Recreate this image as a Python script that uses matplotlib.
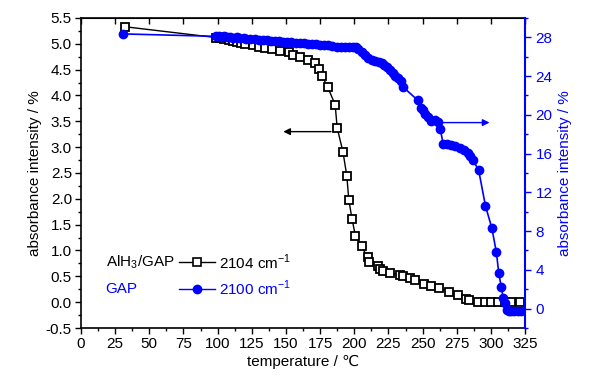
import numpy as np
import matplotlib
matplotlib.use('Agg')
import matplotlib.pyplot as plt
from matplotlib.ticker import MultipleLocator

plt.rcParams['font.family'] = ['Liberation Sans', 'DejaVu Sans']
plt.rcParams['mathtext.fontset'] = 'custom'
plt.rcParams['mathtext.rm'] = 'Liberation Sans'

# AlH3/GAP, 2104 cm-1 (left axis)
alh3_t = [32, 99, 102, 105, 108, 111, 114, 117, 120, 125.6, 130, 135, 140, 146, 152,
          155.5, 160.5, 165.8, 171.5, 174.4, 176.5, 180.6, 186, 187.5, 191.7, 194.5,
          196, 198.4, 200.8, 205.3, 209.7, 210.9, 217.1, 219, 221.3, 226.2, 233.6,
          236, 241, 244.5, 250.9, 255.8, 262, 269.4, 275.6, 282, 284, 290.4, 295.3,
          300.2, 305.2, 310, 315, 321.2]
alh3_v = [5.33, 5.12, 5.11, 5.10, 5.08, 5.06, 5.04, 5.01, 4.99, 4.97, 4.94, 4.92, 4.89,
          4.86, 4.84, 4.78, 4.74, 4.68, 4.63, 4.52, 4.37, 4.16, 3.82, 3.37, 2.91, 2.45,
          1.98, 1.60, 1.29, 1.08, 0.87, 0.77, 0.70, 0.65, 0.60, 0.57, 0.52, 0.50, 0.46,
          0.43, 0.36, 0.32, 0.28, 0.19, 0.13, 0.07, 0.05, 0.0, 0.0, 0.0, 0.0, 0.0, 0.0, 0.0]

# GAP, 2100 cm-1 (right axis)
gap_t = [31, 99, 101, 103, 105, 107, 109, 111, 114, 116, 119, 121, 124, 127, 130, 133,
         136, 139, 142, 145, 148, 151, 154, 157, 160, 163, 166, 169, 172, 175, 178, 181,
         184, 187, 190, 193, 196, 199, 201, 203, 206, 208, 210, 213, 215, 218, 220, 222,
         224, 226, 228, 230, 232, 234, 235.5, 246.5, 248.5, 250, 252, 254, 256, 259, 261,
         263, 265, 268, 271, 274, 277, 280, 283, 285, 287, 291, 296, 300.7, 304, 305.7,
         307.6, 309, 310.2, 311.8, 313.5, 315, 317, 319.5, 321.7]
gap_v = [28.35, 28.1, 28.15, 28.05, 28.1, 28.0, 28.05, 27.95, 28.0, 27.9, 27.95, 27.85,
         27.85, 27.8, 27.75, 27.75, 27.7, 27.65, 27.65, 27.6, 27.55, 27.55, 27.5, 27.45,
         27.45, 27.4, 27.35, 27.3, 27.3, 27.25, 27.2, 27.2, 27.1, 27.05, 27.0, 26.95, 27.0,
         27.05, 27.0, 26.8, 26.45, 26.2, 25.9, 25.7, 25.6, 25.5, 25.4, 25.1, 24.9, 24.6,
         24.3, 24.0, 23.85, 23.5, 22.9, 21.5, 20.7, 20.5, 20.1, 19.8, 19.4, 19.5, 19.3,
         18.5, 17.0, 16.95, 16.9, 16.8, 16.6, 16.4, 16.1, 15.8, 15.3, 14.3, 10.6, 8.3, 5.8,
         3.7, 2.2, 1.1, 0.6, -0.1, -0.25, -0.25, -0.25, -0.25, -0.25]

blue = '#0000ff'
fs = 11

fig = plt.figure(figsize=(5.89, 3.80), dpi=100)
ax = fig.add_axes([0.1375, 0.1368, 0.754, 0.816])
ax2 = ax.twinx()

ax.plot(alh3_t, alh3_v, color='black', lw=1.0, marker='s', ms=5.5, mfc='white',
        mec='black', mew=1.3, zorder=3)
ax2.plot(gap_t, gap_v, color=blue, lw=1.2, marker='o', ms=6, mfc=blue, mec=blue, zorder=3)

ax.set_xlim(0, 325)
ax.set_ylim(-0.5, 5.5)
ax2.set_ylim(-2, 30)

ax.xaxis.set_major_locator(MultipleLocator(25))
ax.xaxis.set_minor_locator(MultipleLocator(12.5))
ax.yaxis.set_major_locator(MultipleLocator(0.5))
ax.yaxis.set_minor_locator(MultipleLocator(0.25))
ax.yaxis.set_major_formatter(matplotlib.ticker.FormatStrFormatter('%.1f'))
ax2.yaxis.set_minor_locator(MultipleLocator(2))
ax2.set_yticks([0, 4, 8, 12, 16, 20, 24, 28])

ax.tick_params(axis='both', which='major', direction='out', length=4.5, width=1,
               labelsize=fs, pad=2)
ax.tick_params(axis='both', which='minor', direction='out', length=2.5, width=1)
ax2.tick_params(axis='y', which='major', direction='out', length=4.5, width=1,
                colors=blue, labelsize=fs, pad=3)
ax2.tick_params(axis='y', which='minor', direction='out', length=2.5, width=1, colors=blue)

# top axis: inward major ticks only
top = ax.secondary_xaxis('top')
top.xaxis.set_major_locator(MultipleLocator(25))
top.tick_params(direction='in', length=4, width=1, labeltop=False)

for s in ax.spines.values():
    s.set_linewidth(1.2)
ax2.spines['right'].set_color(blue)
ax2.spines['right'].set_linewidth(1.5)
for k in ['top', 'left', 'bottom']:
    ax2.spines[k].set_visible(False)

ax.set_xlabel('temperature / ℃', fontsize=fs, labelpad=3)
ax.set_ylabel('absorbance intensity / %', fontsize=fs, labelpad=3)
ax2.set_ylabel('absorbance intensity / %', fontsize=fs, color=blue, labelpad=4)

# arrows pointing to the axes
ax.annotate('', xy=(146, 3.3), xytext=(185, 3.3),
            arrowprops=dict(arrowstyle='-|>', color='black', lw=1, mutation_scale=10))
ax2.annotate('', xy=(301, 19.2), xytext=(263, 19.2),
             arrowprops=dict(arrowstyle='-|>', color=blue, lw=1, mutation_scale=10))

# legend drawn by hand
ax.text(18, 0.78, 'AlH$_3$/GAP', fontsize=fs, va='center', color='black')
ax.plot([72, 98], [0.78, 0.78], color='black', lw=1)
ax.plot([85], [0.78], marker='s', ms=5.5, mfc='white', mec='black', mew=1.2)
ax.text(101, 0.78, '2104 cm$^{-1}$', fontsize=fs, va='center', color='black')
ax.text(18, 0.26, 'GAP', fontsize=fs, va='center', color=blue)
ax.plot([72, 98], [0.26, 0.26], color=blue, lw=1)
ax.plot([85], [0.26], marker='o', ms=6, mfc=blue, mec=blue)
ax.text(101, 0.26, '2100 cm$^{-1}$', fontsize=fs, va='center', color=blue)

fig.savefig('out.png', dpi=100)
